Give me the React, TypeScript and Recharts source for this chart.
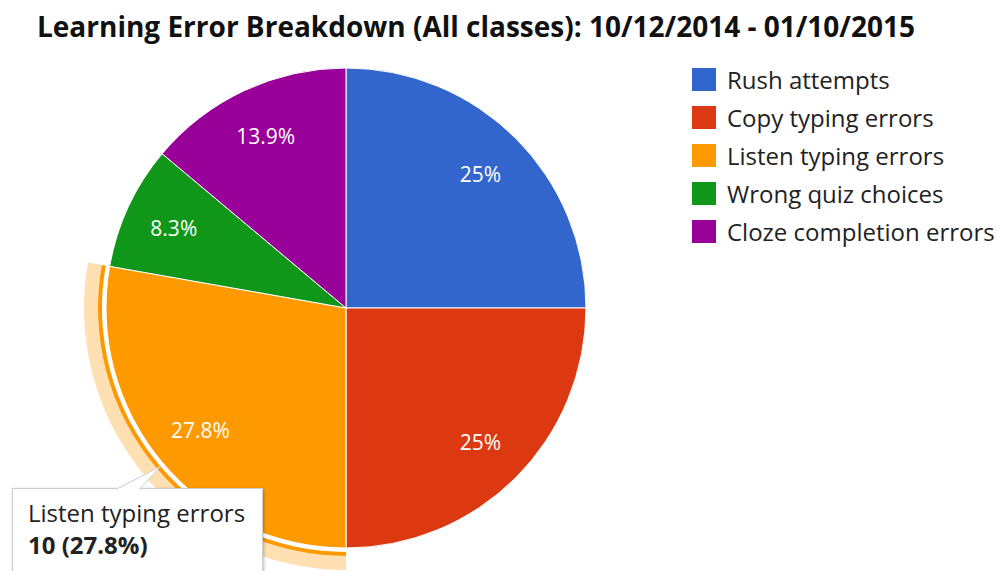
import { PieChart, Pie, Cell, Sector, Tooltip, Legend } from 'recharts'

const CATEGORIES = [
  'Rush attempts',
  'Copy typing errors',
  'Listen typing errors',
  'Wrong quiz choices',
  'Cloze completion errors',
]
const COUNTS = [9, 9, 10, 3, 5]
const COLORS = ['#3366cc', '#dc3912', '#ff9900', '#109618', '#990099']
const TITLE = 'Learning Error Breakdown (All classes): 10/12/2014 - 01/10/2015'

const data = CATEGORIES.map((name, i) => ({ name, value: COUNTS[i] }))
const total = COUNTS.reduce((a, b) => a + b, 0)
const FONT = '"Open Sans", "Noto Sans", sans-serif'
const RAD = Math.PI / 180

const fmtPct = (p: number) => `${parseFloat((p * 100).toFixed(1))}%`

const renderLabel = (props: any) => {
  const { cx, cy, midAngle, percent } = props
  const r = 190
  const x = cx + r * Math.cos(-midAngle * RAD)
  const y = cy + r * Math.sin(-midAngle * RAD)
  return (
    <text
      x={x}
      y={y}
      fill="#fff"
      textAnchor="middle"
      dominantBaseline="central"
      fontSize={21}
      fontFamily={FONT}
    >
      {fmtPct(percent)}
    </text>
  )
}

// hovered slice: slice itself + thin ring + pale halo
const renderActive = (props: any) => {
  const { cx, cy, innerRadius, outerRadius, startAngle, endAngle, fill } = props
  return (
    <g>
      <Sector
        cx={cx}
        cy={cy}
        innerRadius={innerRadius}
        outerRadius={outerRadius}
        startAngle={startAngle}
        endAngle={endAngle}
        fill={fill}
        stroke="#fff"
        strokeWidth={1}
      />
      <Sector
        cx={cx}
        cy={cy}
        innerRadius={outerRadius + 4}
        outerRadius={outerRadius + 8}
        startAngle={startAngle}
        endAngle={endAngle}
        fill={fill}
      />
      <Sector
        cx={cx}
        cy={cy}
        innerRadius={outerRadius + 8}
        outerRadius={outerRadius + 22}
        startAngle={startAngle}
        endAngle={endAngle}
        fill={fill}
        fillOpacity={0.3}
      />
    </g>
  )
}

const TooltipBox = ({ active, payload }: any) => {
  if (!active || !payload?.length) return null
  const p = payload[0]
  return (
    <div
      style={{
        position: 'relative',
        width: 251,
        height: 100,
        background: '#fff',
        border: '1px solid #cccccc',
        boxShadow: '1px 1px 3px rgba(0,0,0,0.25)',
        fontFamily: FONT,
        fontSize: 24,
        color: '#222',
        boxSizing: 'border-box',
        padding: '8px 15px',
        lineHeight: '32px',
        whiteSpace: 'nowrap',
      }}
    >
      <svg
        width={60}
        height={26}
        style={{ position: 'absolute', left: 102, top: -24, overflow: 'visible' }}
      >
        <polygon points="2,24 46,1 25,24" fill="#fff" stroke="#cccccc" strokeWidth={1} />
        <rect x={3} y={23} width={21} height={3} fill="#fff" />
      </svg>
      <div>{p.name}</div>
      <div style={{ fontWeight: 700 }}>
        {p.value} ({fmtPct(p.value / total)})
      </div>
    </div>
  )
}

const LegendBox = () => (
  <div style={{ fontFamily: FONT, fontSize: 24, color: '#222' }}>
    {CATEGORIES.map((c, i) => (
      <div key={c} style={{ display: 'flex', alignItems: 'center', height: 38 }}>
        <span
          style={{
            display: 'inline-block',
            width: 24,
            height: 23,
            background: COLORS[i],
            marginRight: 11,
          }}
        />
        <span style={{ whiteSpace: 'nowrap' }}>{c}</span>
      </div>
    ))}
  </div>
)

export default function App() {
  return (
    <div style={{ position: 'absolute', left: 0, top: 0, width: 997, height: 571, background: '#fff', overflow: 'hidden' }}>
      <div
        style={{
          position: 'absolute',
          left: 37,
          top: 7,
          fontFamily: FONT,
          fontWeight: 700,
          fontSize: 28,
          lineHeight: 'normal',
          color: '#111',
          whiteSpace: 'nowrap',
          zIndex: 2,
        }}
      >
        {TITLE}
      </div>
      <PieChart width={997} height={571} margin={{ top: 0, right: 0, bottom: 0, left: 0 }}>
        <Pie
          data={data}
          dataKey="value"
          nameKey="name"
          cx={346}
          cy={308}
          outerRadius={240}
          startAngle={90}
          endAngle={-270}
          stroke="#fff"
          strokeWidth={1}
          label={renderLabel}
          labelLine={false}
          activeShape={renderActive}
          isAnimationActive={false}
        >
          {data.map((d, i) => (
            <Cell key={d.name} fill={COLORS[i]} />
          ))}
        </Pie>
        <Tooltip
          content={<TooltipBox />}
          defaultIndex={2}
          active
          position={{ x: 12, y: 488 }}
          isAnimationActive={false}
          cursor={false}
        />
        <Legend
          layout="vertical"
          content={<LegendBox />}
          wrapperStyle={{ position: 'absolute', left: 692, top: 60, width: 305 }}
        />
      </PieChart>
    </div>
  )
}
